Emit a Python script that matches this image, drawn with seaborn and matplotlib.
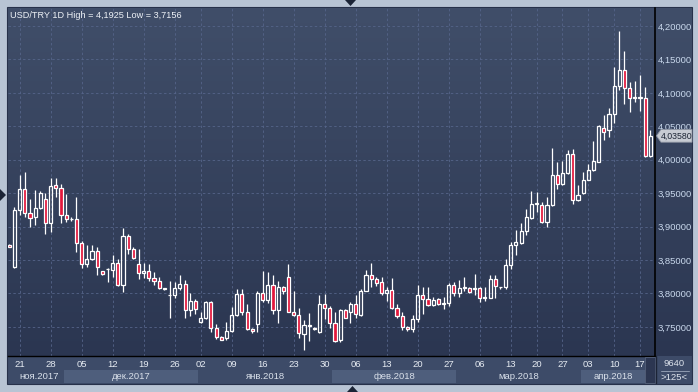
import numpy as np
import pandas as pd
import matplotlib
matplotlib.use("Agg")
import matplotlib.pyplot as plt
import matplotlib.transforms as mtransforms
from matplotlib.patches import Rectangle, Polygon
from matplotlib.colors import LinearSegmentedColormap
import seaborn as sns

# ---------------- data ----------------
opens = [3.873, 3.839, 3.925, 3.957, 3.920, 3.914, 3.928, 3.942, 3.906, 3.962,
         3.958, 3.918, 3.912, 3.911, 3.876, 3.844, 3.852, 3.863, 3.833, 3.836,
         3.835, 3.846, 3.813, 3.886, 3.866, 3.844, 3.830, 3.834, 3.823, 3.819,
         3.808, 3.797, 3.798, 3.808, 3.814, 3.775, 3.789, 3.757, 3.763, 3.787,
         3.748, 3.735, 3.733, 3.744, 3.768, 3.799, 3.772, 3.747, 3.754, 3.801,
         3.790, 3.813, 3.775, 3.810, 3.825, 3.773, 3.768, 3.739, 3.752, 3.748,
         3.743, 3.784, 3.778, 3.756, 3.730, 3.775, 3.772, 3.784, 3.768, 3.804,
         3.828, 3.822, 3.817, 3.800, 3.805, 3.779, 3.767, 3.750, 3.747, 3.762,
         3.798, 3.792, 3.783, 3.792, 3.785, 3.786, 3.813, 3.800, 3.808, 3.808,
         3.807, 3.808, 3.793, 3.793, 3.822, 3.810, 3.809, 3.843, 3.873, 3.876,
         3.894, 3.913, 3.934, 3.933, 3.907, 3.933, 3.977, 3.964, 3.980, 4.008,
         3.940, 3.950, 3.970, 3.984, 3.997, 4.048, 4.045, 4.068, 4.110, 4.134,
         4.107, 4.093, 4.094, 4.093, 4.006]
highs = [3.874, 3.930, 3.977, 3.981, 3.941, 3.955, 3.954, 3.950, 3.973, 3.972,
         3.964, 3.949, 3.914, 3.944, 3.879, 3.872, 3.873, 3.869, 3.834, 3.838,
         3.858, 3.851, 3.898, 3.889, 3.870, 3.867, 3.846, 3.844, 3.832, 3.825,
         3.808, 3.819, 3.817, 3.828, 3.820, 3.800, 3.792, 3.773, 3.789, 3.789,
         3.755, 3.736, 3.758, 3.780, 3.807, 3.807, 3.784, 3.749, 3.803, 3.834,
         3.832, 3.828, 3.818, 3.811, 3.844, 3.804, 3.779, 3.760, 3.771, 3.750,
         3.798, 3.799, 3.781, 3.772, 3.777, 3.777, 3.788, 3.797, 3.806, 3.835,
         3.846, 3.824, 3.824, 3.809, 3.823, 3.784, 3.772, 3.752, 3.768, 3.813,
         3.809, 3.810, 3.794, 3.793, 3.794, 3.815, 3.817, 3.820, 3.825, 3.810,
         3.829, 3.810, 3.810, 3.828, 3.827, 3.810, 3.852, 3.877, 3.895, 3.906,
         3.927, 3.953, 3.952, 3.937, 3.945, 4.017, 3.997, 3.998, 4.014, 4.016,
         3.962, 3.981, 3.994, 4.028, 4.052, 4.067, 4.077, 4.139, 4.1925, 4.162,
         4.117, 4.118, 4.127, 4.109, 4.045]
lows = [3.869, 3.838, 3.917, 3.914, 3.900, 3.902, 3.926, 3.889, 3.892, 3.944,
        3.906, 3.907, 3.908, 3.862, 3.838, 3.839, 3.850, 3.827, 3.828, 3.817,
        3.825, 3.811, 3.802, 3.859, 3.851, 3.822, 3.823, 3.819, 3.812, 3.807,
        3.805, 3.764, 3.793, 3.805, 3.764, 3.767, 3.770, 3.756, 3.762, 3.742,
        3.732, 3.730, 3.731, 3.742, 3.766, 3.768, 3.745, 3.741, 3.743, 3.788,
        3.786, 3.769, 3.756, 3.799, 3.772, 3.766, 3.733, 3.7156, 3.729, 3.745,
        3.741, 3.762, 3.749, 3.727, 3.727, 3.763, 3.756, 3.763, 3.767, 3.803,
        3.809, 3.811, 3.798, 3.789, 3.777, 3.764, 3.745, 3.744, 3.742, 3.757,
        3.770, 3.781, 3.781, 3.783, 3.777, 3.782, 3.796, 3.794, 3.804, 3.800,
        3.797, 3.787, 3.789, 3.793, 3.793, 3.806, 3.806, 3.837, 3.857, 3.874,
        3.888, 3.911, 3.922, 3.905, 3.899, 3.931, 3.957, 3.962, 3.979, 3.934,
        3.938, 3.949, 3.969, 3.983, 3.996, 4.029, 4.034, 4.055, 4.104, 4.084,
        4.072, 4.087, 4.073, 4.004, 4.004]
closes = [3.870, 3.925, 3.957, 3.920, 3.913, 3.928, 3.951, 3.906, 3.961, 3.958,
          3.918, 3.912, 3.911, 3.876, 3.844, 3.852, 3.863, 3.839, 3.829, 3.837,
          3.846, 3.813, 3.886, 3.866, 3.853, 3.830, 3.834, 3.823, 3.819, 3.808,
          3.807, 3.798, 3.808, 3.814, 3.775, 3.789, 3.777, 3.763, 3.787, 3.748,
          3.735, 3.731, 3.744, 3.768, 3.799, 3.772, 3.747, 3.744, 3.801, 3.790,
          3.813, 3.775, 3.810, 3.803, 3.773, 3.768, 3.741, 3.753, 3.753, 3.747,
          3.784, 3.778, 3.756, 3.729, 3.775, 3.764, 3.784, 3.769, 3.804, 3.828,
          3.822, 3.816, 3.801, 3.805, 3.779, 3.767, 3.750, 3.747, 3.762, 3.798,
          3.792, 3.783, 3.790, 3.785, 3.786, 3.813, 3.800, 3.808, 3.809, 3.802,
          3.808, 3.793, 3.794, 3.822, 3.811, 3.809, 3.843, 3.873, 3.877, 3.894,
          3.915, 3.934, 3.935, 3.907, 3.933, 3.977, 3.964, 3.980, 4.008, 3.940,
          3.948, 3.970, 3.985, 3.998, 4.050, 4.042, 4.068, 4.110, 4.134, 4.107,
          4.093, 4.094, 4.093, 4.006, 4.0358]

tick_idx = [2, 8, 14, 20, 26, 32, 37, 43, 49, 55, 61, 67, 73, 79, 85, 91, 97,
            102, 107, 112, 117, 122]
tick_labels = ["21", "28", "05", "12", "19", "26", "02", "09", "16", "23", "30",
               "06", "13", "20", "27", "06", "13", "20", "27", "03", "10", "17"]
month_labels = ["ноя.2017", "дек.2017", "янв.2018", "фев.2018", "мар.2018", "апр.2018"]
month_start = [-0.25, 10.5, 36.5, 62.5, 86.5, 110.5]
month_end = [10.5, 36.5, 62.5, 86.5, 110.5, 123.0]
y_ticks = [3.75, 3.80, 3.85, 3.90, 3.95, 4.00, 4.05, 4.10, 4.15, 4.20]
title = "USD/TRY 1D High = 4,1925 Low = 3,7156"
last_price = 4.0358
corner_top = "9640"
corner_bottom = ">125<"

df = pd.DataFrame({"o": opens, "h": highs, "l": lows, "c": closes})
df["x"] = np.arange(len(df))

# ---------------- style ----------------
sns.set_theme(style="dark")
plt.rcParams["font.family"] = ["Liberation Sans", "DejaVu Sans"]

W, H = 698, 392
def R(x0, y0, x1, y1):
    return [x0 / W, 1 - y1 / H, (x1 - x0) / W, (y1 - y0) / H]

RED = "#e3173c"
BAND = "#3d4b68"
BAND_LIGHT = "#4e5e7c"

fig = plt.figure(figsize=(W / 100, H / 100), dpi=100, facecolor="#b8c4d4")

# base overlay (pixel coordinates)
ov = fig.add_axes([0, 0, 1, 1], zorder=0)
ov.set_xlim(0, W); ov.set_ylim(H, 0); ov.axis("off")
ov.add_patch(Rectangle((7, 7), 685, 377, fc=BAND, ec="#27314a", lw=0.8))

# gradient background of plot + price panel
bg = fig.add_axes(R(8, 8, 692, 356), zorder=1)
cmap = LinearSegmentedColormap.from_list("bg", ["#404e69", "#2b3651"])
bg.imshow(np.linspace(0, 1, 256).reshape(-1, 1), aspect="auto", cmap=cmap,
          extent=[0, 1, 0, 1], origin="upper")
bg.axis("off")

# main axes
ax = fig.add_axes(R(8, 8, 655, 356), zorder=2)
ax.patch.set_alpha(0)
ax.set_xlim(-0.25, 124.9)
ax.set_ylim(3.7065, 4.227)

ax.set_xticks(tick_idx)
ax.set_xticklabels(tick_labels)
ax.set_yticks(y_ticks)
ax.set_yticklabels([f"{v:.5f}".replace(".", ",") for v in y_ticks])
ax.yaxis.tick_right()
ax.tick_params(axis="y", length=0, pad=2.2, labelsize=6.8, labelcolor="#c9d8ec")
ax.tick_params(axis="x", length=0, pad=3.0, labelsize=6.8, labelcolor="#e6ebf2")
ax.grid(True, color="#56658a", linestyle=(0, (2.5, 2.5)), linewidth=0.7, alpha=0.85)
ax.set_axisbelow(True)
for s in ["top", "left"]:
    ax.spines[s].set_visible(False)
ax.spines["bottom"].set_color("black"); ax.spines["bottom"].set_linewidth(1.0)
ax.spines["right"].set_color("black"); ax.spines["right"].set_linewidth(1.2)

# month bands
btrans = mtransforms.blended_transform_factory(ax.transData, ax.transAxes)
axh = 348.0
r2_top = -(370 - 356) / axh
r2_bot = -(383 - 356) / axh
for i, (lab, s, e) in enumerate(zip(month_labels, month_start, month_end)):
    if i % 2 == 1:
        ax.add_patch(Rectangle((s, r2_bot), e - s, r2_top - r2_bot, transform=btrans,
                               fc=BAND_LIGHT, ec="none", clip_on=False, zorder=1))
    ax.text((s + e) / 2 + (0.6 if i == 0 else 0), (r2_top + r2_bot) / 2, lab,
            transform=btrans, ha="center", va="center", fontsize=6.8,
            color="#d9e0ea", clip_on=False)

# candles
x = df["x"].to_numpy()
o = df["o"].to_numpy(); c = df["c"].to_numpy()
hi = df["h"].to_numpy(); lo = df["l"].to_numpy()
btop = np.maximum(o, c); bbot = np.minimum(o, c)
bh = np.maximum(btop - bbot, 0.0004)
up = c >= o
ax.vlines(x, btop, hi, color="white", lw=0.9, zorder=3)
ax.vlines(x, lo, bbot, color="white", lw=0.9, zorder=3)
ax.bar(x[up], bh[up], bottom=bbot[up], width=0.6, facecolor="none",
       edgecolor="white", linewidth=0.9, zorder=4)
ax.bar(x[~up], bh[~up], bottom=bbot[~up], width=0.6, facecolor=RED,
       edgecolor="white", linewidth=0.9, zorder=4)

# top overlay (pixel coordinates)
top = fig.add_axes([0, 0, 1, 1], zorder=5)
top.set_xlim(0, W); top.set_ylim(H, 0); top.axis("off"); top.patch.set_alpha(0)

top.text(10, 15, title, fontsize=6.6, color="#eef2f7", va="center", ha="left")

# price tag
ptrans = mtransforms.blended_transform_factory(top.transData, ax.transData)
dy = 0.0095
p = last_price
top.add_patch(Polygon([(656.5, p), (661, p + dy), (692, p + dy), (692, p - dy), (661, p - dy)],
                      closed=True, transform=ptrans, fc="#c7cbd3", ec="#8e95a3", lw=0.6,
                      zorder=6))
top.text(676.5, p, f"{p:.5f}".replace(".", ","), transform=ptrans, fontsize=6.3,
         color="#1d2535", ha="center", va="center", zorder=7)

# bottom-right cell and scroll box
top.add_patch(Rectangle((645, 357), 10, 26, fc="#2c3651", ec="#55617a", lw=0.6))
top.plot([655.5, 655.5], [356, 383], color="#1c2436", lw=1.0)
top.text(674, 364, corner_top, fontsize=6.8, color="#dde3ec", ha="center", va="center")
top.plot([661, 689], [370.5, 370.5], color="#8f9bb0", lw=0.7)
top.text(674, 377.5, corner_bottom, fontsize=6.8, color="#dde3ec", ha="center", va="center")

# navigation triangles
tri = "#1b2436"
top.add_patch(Polygon([(345, 0), (356, 0), (350.5, 6)], closed=True, fc=tri, ec="none"))
top.add_patch(Polygon([(0, 189), (0, 201), (6, 195)], closed=True, fc=tri, ec="none"))
top.add_patch(Polygon([(347, 392), (358, 392), (352.5, 386)], closed=True, fc=tri, ec="none"))

fig.savefig("out.png", dpi=100, facecolor=fig.get_facecolor())
